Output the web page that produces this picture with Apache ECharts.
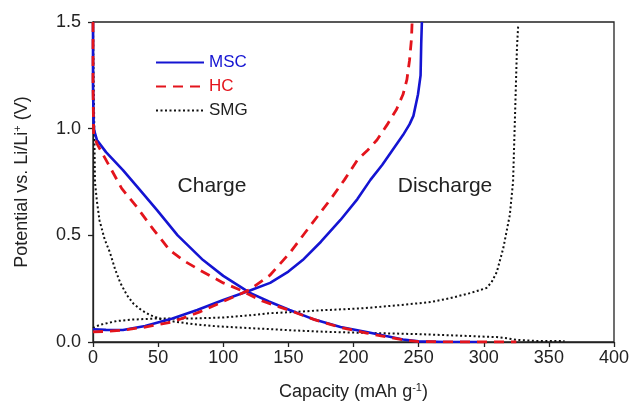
<!DOCTYPE html>
<html>
<head>
<meta charset="utf-8">
<script src="https://cdn.jsdelivr.net/npm/echarts@6/dist/echarts.min.js"></script>
<style>html,body{margin:0;padding:0;background:#fff;}#c{width:636px;height:410px;}</style>
</head>
<body>
<div id="c"></div>
<script>
// ---- Data (capacity in mAh/g, potential in V) ----
var xTicks = [0, 50, 100, 150, 200, 250, 300, 350, 400];
var yTicks = [0.0, 0.5, 1.0, 1.5];

var mscChargeX = [0, 0, 0.5, 1, 3, 10, 23, 35, 49, 65, 84.5, 100, 120.5, 135, 151, 170, 190, 210, 225, 238, 250, 270, 295];
var mscChargeY = [1.5, 1.2, 1.02, 0.99, 0.947, 0.89, 0.806, 0.72, 0.619, 0.5, 0.384, 0.31, 0.23, 0.19, 0.15, 0.105, 0.07, 0.047, 0.028, 0.012, 0.003, 0.0, 0.0];

var mscDischargeX = [0, 10, 23, 40, 61, 80, 100, 120, 136, 150, 161, 175, 190, 203, 213, 222, 230, 238, 243, 246, 249.5, 251.5, 252, 252.5];
var mscDischargeY = [0.06, 0.057, 0.056, 0.075, 0.11, 0.15, 0.197, 0.24, 0.277, 0.33, 0.384, 0.47, 0.572, 0.67, 0.76, 0.83, 0.9, 0.97, 1.02, 1.06, 1.16, 1.25, 1.4, 1.5];

var hcChargeX = [0, 0, 0.5, 3, 13, 22, 34, 46, 59, 70, 82, 100, 113, 130, 151, 170, 190, 210, 225, 238, 250, 280, 325];
var hcChargeY = [1.5, 1.2, 0.97, 0.93, 0.82, 0.72, 0.63, 0.53, 0.43, 0.38, 0.337, 0.277, 0.244, 0.192, 0.148, 0.105, 0.068, 0.042, 0.024, 0.01, 0.002, 0.0, 0.0];

var hcDischargeX = [0, 10, 23, 40, 61, 82, 100, 120, 136, 151, 165, 182, 193, 203, 211, 218, 226, 233, 238, 241, 243, 244.5, 245];
var hcDischargeY = [0.047, 0.05, 0.056, 0.07, 0.094, 0.141, 0.19, 0.244, 0.314, 0.417, 0.53, 0.666, 0.76, 0.853, 0.9, 0.947, 1.02, 1.09, 1.16, 1.23, 1.32, 1.42, 1.5];

var smgChargeX = [0, 0.5, 1, 1.5, 3, 5, 9, 13, 17, 21, 26, 31, 37, 44, 53, 64, 78, 92, 105, 130, 155, 182, 215, 249, 280, 310, 318, 325, 340, 362];
var smgChargeY = [1.5, 1.2, 1.0, 0.75, 0.66, 0.57, 0.48, 0.42, 0.34, 0.277, 0.22, 0.18, 0.15, 0.126, 0.105, 0.094, 0.083, 0.075, 0.07, 0.062, 0.054, 0.047, 0.042, 0.037, 0.03, 0.023, 0.017, 0.01, 0.005, 0.005];

var smgDischargeX = [0, 5, 18, 30, 49, 75, 100, 120, 136, 151, 180, 207, 236, 259, 274, 290, 302, 306, 310, 315, 320, 322.5, 324, 325.5, 326.5];
var smgDischargeY = [0.065, 0.08, 0.098, 0.105, 0.11, 0.11, 0.115, 0.125, 0.135, 0.14, 0.15, 0.158, 0.173, 0.187, 0.205, 0.23, 0.253, 0.28, 0.328, 0.44, 0.595, 0.75, 1.06, 1.38, 1.49];

var seriesNames = ['MSC', 'HC', 'SMG'];
var annotations = ['Charge', 'Discharge'];

function pairs(xs, ys) { return xs.map(function (x, i) { return [x, ys[i]]; }); }

var FONT = 'Liberation Sans, Arial, sans-serif';
var BLUE = '#1414d2';
var RED = '#e3141c';
var BLACK = '#111111';

function mk(name, xs, ys, color, type, width, z) {
  return {
    name: name, type: 'line', data: pairs(xs, ys), showSymbol: false, symbol: 'none',
    smooth: false, z: z, animation: false,
    lineStyle: { color: color, width: width, type: type }, itemStyle: { color: color }
  };
}

var chart = echarts.init(document.getElementById('c'), null, { renderer: 'canvas' });
chart.setOption({
  backgroundColor: '#fff',
  animation: false,
  grid: { left: 93, right: 22, top: 22, bottom: 68, show: true, borderColor: '#222', borderWidth: 1.3, backgroundColor: 'transparent' },
  legend: {
    data: [
      { name: 'MSC', textStyle: { color: BLUE } },
      { name: 'HC', textStyle: { color: RED } },
      { name: 'SMG', textStyle: { color: '#222' } }
    ],
    orient: 'vertical', left: 150, top: 49, itemWidth: 48, itemHeight: 15, itemGap: 7,
    itemStyle: { opacity: 0, borderWidth: 0 },
    textStyle: { fontFamily: FONT, fontSize: 17 }, selectedMode: false
  },
  xAxis: {
    type: 'value', min: 0, max: 400, interval: 50,
    name: '{n|Capacity (mAh g}{s|-1}{n|)}', nameLocation: 'middle', nameGap: 40,
    nameTextStyle: { rich: { n: { fontFamily: FONT, fontSize: 18, color: '#222' }, s: { fontFamily: FONT, fontSize: 11, color: '#222', padding: [0, 0, 10, 0] } } },
    axisLine: { show: true, onZero: false, lineStyle: { color: '#222', width: 1.3 } },
    axisTick: { show: true, inside: false, length: 5, lineStyle: { color: '#222', width: 1.3 } },
    axisLabel: { fontFamily: FONT, fontSize: 18, color: '#222', margin: 7 },
    splitLine: { show: false }
  },
  yAxis: {
    type: 'value', min: 0, max: 1.5, interval: 0.5,
    name: '{n|Potential vs. Li/Li}{s|+}{n| (V)}', nameLocation: 'middle', nameGap: 60, nameRotate: 90,
    nameTextStyle: { rich: { n: { fontFamily: FONT, fontSize: 18, color: '#222' }, s: { fontFamily: FONT, fontSize: 11, color: '#222', padding: [0, 0, 10, 0] } } },
    axisLine: { show: true, onZero: false, lineStyle: { color: '#222', width: 1.3 } },
    axisTick: { show: true, inside: false, length: 5, lineStyle: { color: '#222', width: 1.3 } },
    axisLabel: { fontFamily: FONT, fontSize: 18, color: '#222', margin: 12, formatter: function (v) { return v.toFixed(1); } },
    splitLine: { show: false }
  },
  graphic: [
    { type: 'text', x: 212, y: 186, style: { text: annotations[0], font: '21px ' + FONT, fill: '#222', align: 'center', verticalAlign: 'middle' } },
    { type: 'text', x: 445, y: 186, style: { text: annotations[1], font: '21px ' + FONT, fill: '#222', align: 'center', verticalAlign: 'middle' } }
  ],
  series: [
    mk(seriesNames[2], smgChargeX, smgChargeY, BLACK, [2, 2.5], 2, 2),
    mk(seriesNames[2], smgDischargeX, smgDischargeY, BLACK, [2, 2.5], 2, 2),
    mk(seriesNames[0], mscChargeX, mscChargeY, BLUE, 'solid', 2.6, 3),
    mk(seriesNames[0], mscDischargeX, mscDischargeY, BLUE, 'solid', 2.6, 3),
    mk(seriesNames[1], hcChargeX, hcChargeY, RED, [10, 7], 2.8, 4),
    mk(seriesNames[1], hcDischargeX, hcDischargeY, RED, [10, 7], 2.8, 4)
  ]
});
</script>
</body>
</html>
